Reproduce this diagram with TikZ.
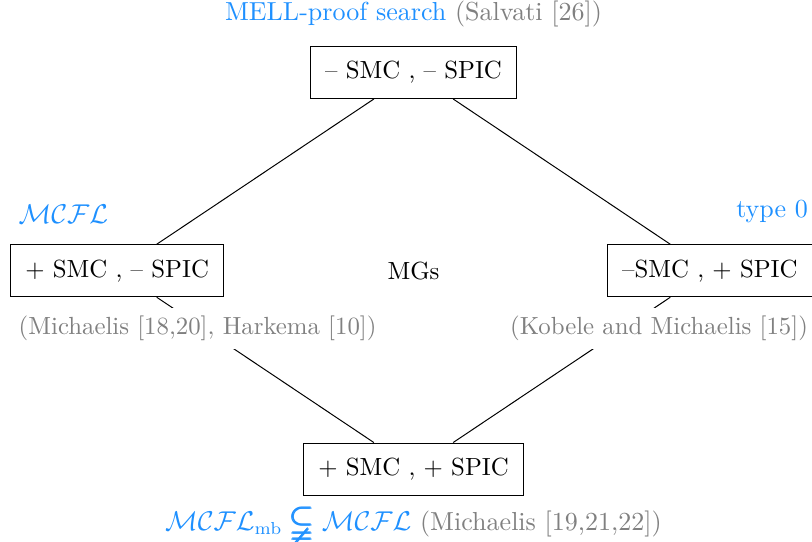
\documentclass[tikz,border=0pt]{standalone}
\usepackage{amsmath,amssymb}
\usetikzlibrary{positioning}
\definecolor{langblue}{RGB}{30,144,255}
\newcommand{\bigsubneq}{\mathrel{\raisebox{-0.15ex}{\scalebox{1.2}{$\pmb{\subsetneqq}$}}}}

\begin{document}
\begin{tikzpicture}[node distance = 2.81cm and 4.2cm, on grid,
    box/.style = {draw, inner sep = 6pt},
    cite/.style = {text = gray, fill = white, on grid = false},
    lang/.style = {text = langblue, on grid = false, font = \fontsize{10.5pt}{12pt}\selectfont}]
  \useasboundingbox (-5.86,1.027) rectangle (5.647,-6.64);
  \node[box] (T) {– SMC , – SPIC};
  \node[box] (L) [below left=of T] {+ SMC , – SPIC};
  \node[box] (R) [below right=of T] {–SMC , + SPIC};
  \node[box] (B) [below right=of L] {+ SMC , + SPIC};
  \node (M) [below=of T] {MGs};
  \path (T) edge (L)
            edge (R)
        (B) edge (L)
            edge (R);
  % labels of the classes
  \node[lang] (Tlab) [above=4pt of T] {MELL-proof search \textcolor{gray}{(Salvati [26])}};
  \node[lang] (Llab) [above right=5pt and 0pt of L.north west] {$\mathcal{MCFL}$};
  \node[lang] (Rlab) [above left=5pt and -1.5pt of R.north east] {type 0};
  \node[cite] (Lcite) [below right=4pt and 0pt of L.south west] {(Michaelis [18,20], Harkema [10])};
  \node[cite] (Rcite) [below left=4pt and -1.5pt of R.south east] {(Kobele and Michaelis [15])};
  \node[lang] (Blab) [below=1pt of B] {$\mathcal{MCFL}_{\mathrm{mb}} \bigsubneq \mathcal{MCFL}$ \textcolor{gray}{(Michaelis [19,21,22])}};
\end{tikzpicture}
\end{document}
